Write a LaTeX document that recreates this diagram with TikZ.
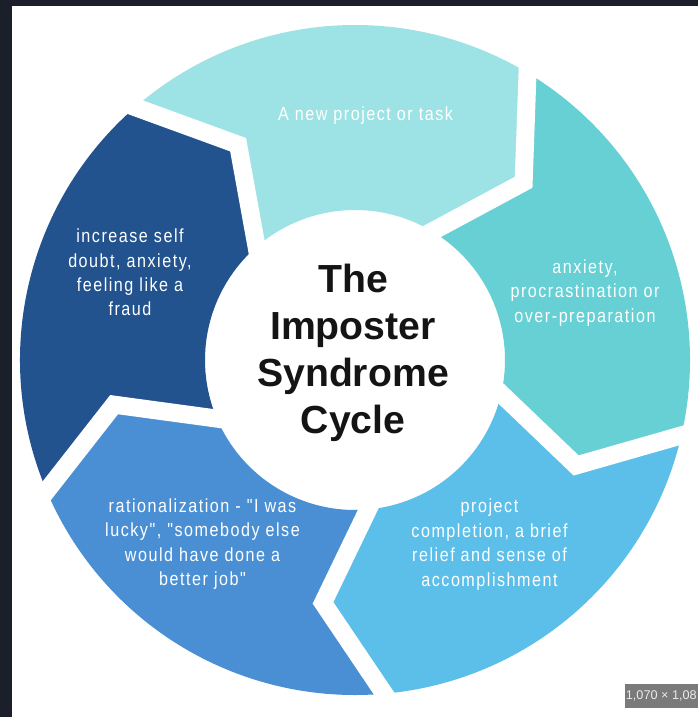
\documentclass[tikz,border=0pt]{standalone}
\usepackage{fontspec}
\setmainfont{Liberation Sans}
\newfontfamily\segfont[FakeStretch=0.85,LetterSpace=8]{Liberation Sans}
\usepackage{tikz}
\definecolor{ISCyan}{RGB}{157,227,230}
\definecolor{ISTeal}{RGB}{102,208,213}
\definecolor{ISSky}{RGB}{91,191,234}
\definecolor{ISBlue}{RGB}{74,143,212}
\definecolor{ISNavy}{RGB}{35,83,143}
\definecolor{ISInk}{RGB}{20,20,20}
\definecolor{ISFrame}{RGB}{27,31,42}
\definecolor{ISBadge}{RGB}{122,122,122}

% ring radii and how far each arrow head reaches
\newcommand{\cycR}{6.7}
\newcommand{\cycr}{3.0}
\newcommand{\cycm}{4.9}
\newcommand{\cycd}{12.5}

\begin{document}
\begin{tikzpicture}[
          seg/.style={align=center, text=white,
                      font=\segfont\fontsize{10.8}{13.9}\selectfont},
          title/.style={align=center, text=ISInk,
                        font=\bfseries\fontsize{22.3}{26.7}\selectfont},
          gap/.style={white, line width=0.36cm, line cap=rect, line join=miter},
          badge/.style={text=white!92!black, inner sep=0pt,
                        font=\fontsize{7.2}{8}\selectfont}
        ]
        \fill[white] (-7.1,-7.14) rectangle (6.86,7.2);
        \useasboundingbox (-7.1,-7.14) rectangle (6.86,7.2);
        \fill[ISFrame] (-7.1,-7.14) rectangle (-6.86,7.2);
        \fill[ISFrame] (-7.1,7.08) rectangle (6.86,7.2);

        % five arrow segments, tail angle / colour, running clockwise
        \foreach \a/\col in {131/ISCyan, 59/ISTeal, -13/ISSky, -85/ISBlue, 203/ISNavy}
          \fill[\col] (\a:\cycR) arc[start angle=\a, end angle=\a-72, radius=\cycR]
                -- ({\a-72-\cycd}:\cycm) -- ({\a-72}:\cycr)
                arc[start angle=\a-72, end angle=\a, radius=\cycr]
                -- ({\a-\cycd}:\cycm) -- cycle;
        \foreach \a in {131, 59, -13, -85, 203}
          \draw[gap] (\a:\cycR) -- ({\a-\cycd}:\cycm) -- (\a:\cycr);

        \node[title] (cycle) at (-0.04, 0.14) {The\\Imposter\\Syndrome\\Cycle};

        \node[seg] (task)  at (0.21, 4.88)  {A new project or task};
        \node[seg] (anx)   at (4.6, 1.34)   {anxiety,\\procrastination or\\over-preparation};
        \node[seg] (done)  at (2.69, -3.69) {project\\completion, a brief\\relief and sense of\\accomplishment};
        \node[seg] (luck)  at (-3.05, -3.68)
              {rationalization - "I was\\lucky", "somebody else\\would have done a\\better job"};
        \node[seg] (doubt) at (-4.5, 1.75)  {increase self\\doubt, anxiety,\\feeling like a\\fraud};

        \fill[ISBadge] (5.4,-6.48) rectangle (6.86,-6.96);
        \node[badge, anchor=east] (size) at (6.84,-6.72) {1,070 × 1,08};
      \end{tikzpicture}
\end{document}
